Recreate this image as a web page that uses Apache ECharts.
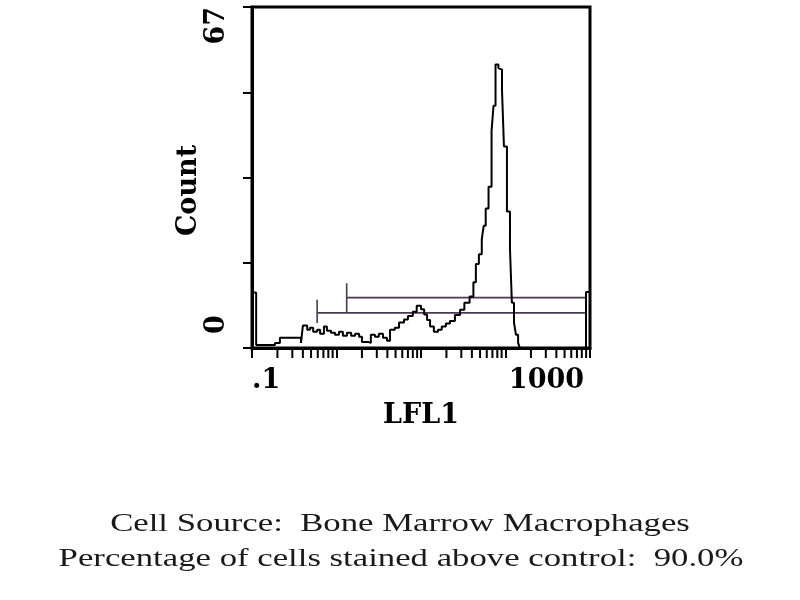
<!DOCTYPE html>
<html><head><meta charset="utf-8">
<script src="https://cdn.jsdelivr.net/npm/echarts@6/dist/echarts.min.js"></script>
<style>html,body{margin:0;padding:0;background:#fff}#c{width:800px;height:600px}</style>
</head><body><div id="c"></div>
<script>
// LFL1 channel (bin left edge, log scale) and cell counts
const lfl1Values = [0.1, 0.112, 0.187, 0.214, 0.38, 0.40, 0.45, 0.485, 0.53, 0.59, 0.64, 0.71, 0.77, 0.86, 0.96, 1.07, 1.19, 1.33, 1.49, 1.66, 1.85, 2.0, 2.35, 2.55, 2.85, 3.17, 3.55, 3.96, 4.3, 4.9, 5.5, 6.3, 7.0, 8.0, 8.9, 10.0, 10.9, 11.8, 12.8, 14.2, 15.9, 17.6, 19.7, 22.0, 25.2, 29.0, 32.6, 37.6, 41.7, 44.6, 48.4, 52.4, 55.2, 58.3, 63.0, 68.4, 72.1, 76.2, 82.5, 86.1, 90.9, 95.9, 104, 113, 119, 126, 133, 141, 148, 897, 1000];
const cellCounts = [10.9, 0.6, 1.0, 2.0, 1.0, 4.4, 3.6, 4.0, 3.2, 3.6, 2.8, 4.2, 3.4, 3.0, 2.6, 3.2, 2.4, 3.0, 2.4, 2.8, 2.2, 1.2, 1.0, 2.6, 2.2, 2.8, 2.0, 1.4, 3.6, 4.0, 5.0, 5.6, 6.3, 7.1, 8.3, 7.6, 6.6, 5.5, 4.2, 3.2, 3.6, 4.2, 4.8, 5.3, 6.5, 7.5, 8.9, 10.1, 12.9, 16.5, 18.4, 21.4, 24.0, 27.4, 31.7, 42.6, 47.6, 55.7, 55.0, 54.7, 50.7, 39.6, 26.8, 19.4, 8.9, 5.0, 2.6, 1.0, 0, 11, 11];

// gate markers
const gate1Range = [0.59, 880];
const gate1Level = 6.9;
const gate1Tick = [4.9, 9.5];
const gate2Range = [1.32, 880];
const gate2Level = 9.9;
const gate2Tick = [6.9, 12.7];

// axes
const xRange = [0.1, 1000];
const yRange = [0, 67];
const yTickLabels = ['0', '67'];
const xTickLabels = ['.1', '1000'];
const minorTickValues = [0.2,0.3,0.4,0.5,0.6,0.7,0.8,0.9, 2,3,4,5,6,7,8,9, 20,30,40,50,60,70,80,90, 200,300,400,500,600,700,800,900];

const captionLines = ['Cell Source:  Bone Marrow Macrophages', 'Percentage of cells stained above control:  90.0%'];

const axisFont = {fontFamily: 'DejaVu Serif', fontWeight: 'bold', fontSize: 27, color: '#000'};
const gateColor = '#4a3a50';

const chart = echarts.init(document.getElementById('c'), null, {renderer: 'canvas'});
const histData = lfl1Values.map((v, i) => [v, cellCounts[i]]);
function seg(a, b) { return {type: 'line', data: [a, b], symbol: 'none', silent: true, lineStyle: {color: gateColor, width: 1.6}, z: 3}; }

chart.setOption({
  animation: false,
  backgroundColor: '#fff',
  grid: {left: 252, top: 7, right: 210, bottom: 252, show: true, borderColor: '#000', borderWidth: 3, backgroundColor: 'transparent', z: 10},
  xAxis: {
    type: 'log', logBase: 10, min: xRange[0], max: xRange[1],
    axisLine: {show: true, lineStyle: {color: '#000', width: 3}},
    axisTick: {show: true, length: 10, inside: false, lineStyle: {color: '#000', width: 2}},
    splitLine: {show: false},
    axisLabel: Object.assign({
      margin: 19,
      alignMinLabel: 'left', alignMaxLabel: 'right',
      showMinLabel: true, showMaxLabel: true,
      formatter: function (v) {
        if (Math.abs(v - xRange[0]) < 1e-9) return xTickLabels[0];
        if (Math.abs(v - xRange[1]) < 1e-6) return '{r|' + xTickLabels[1] + '}';
        return '';
      },
      rich: {r: Object.assign({padding: [0, 6, 0, 0]}, axisFont)}
    }, axisFont),
    name: 'LFL1', nameLocation: 'middle', nameGap: 54,
    nameTextStyle: axisFont
  },
  yAxis: {
    type: 'value', min: yRange[0], max: yRange[1], interval: 16.75,
    axisLine: {show: true, lineStyle: {color: '#000', width: 3}},
    axisTick: {show: true, length: 9, inside: false, lineStyle: {color: '#000', width: 2}},
    splitLine: {show: false},
    axisLabel: Object.assign({
      rotate: 90, margin: 22,
      alignMinLabel: 'left', alignMaxLabel: 'right',
      padding: [0, 0, 0, 14],
      formatter: function (v) {
        if (v === yRange[0]) return yTickLabels[0];
        if (Math.abs(v - yRange[1]) < 1e-9) return yTickLabels[1];
        return '';
      }
    }, axisFont),
    name: 'Count', nameLocation: 'middle', nameGap: 50, nameRotate: 90,
    nameTextStyle: Object.assign({padding: [0, 26, 0, 0]}, axisFont)
  },
  series: [
    {type: 'line', step: 'end', data: histData, symbol: 'none', silent: true,
     lineStyle: {color: '#000', width: 2}, z: 4},
    seg([gate1Range[0], gate1Level], [gate1Range[1], gate1Level]),
    seg([gate1Range[0], gate1Tick[0]], [gate1Range[0], gate1Tick[1]]),
    seg([gate2Range[0], gate2Level], [gate2Range[1], gate2Level]),
    seg([gate2Range[0], gate2Tick[0]], [gate2Range[0], gate2Tick[1]]),
    {type: 'custom', silent: true, clip: false, z: 5,
     data: minorTickValues.map(v => [v, 0]),
     renderItem: function (params, api) {
       const p = api.coord([api.value(0), 0]);
       return {type: 'line', shape: {x1: p[0], y1: p[1], x2: p[0], y2: p[1] + 10},
               style: {stroke: '#000', lineWidth: 2}};
     }}
  ],
  graphic: [
    {type: 'text', x: 400, y: 524, scaleX: 1.336, silent: true,
     style: {text: captionLines[0], fontFamily: 'Liberation Serif', fontSize: 26, fill: '#1a1a1a', textAlign: 'center', textVerticalAlign: 'middle'}},
    {type: 'text', x: 401, y: 559, scaleX: 1.336, silent: true,
     style: {text: captionLines[1], fontFamily: 'Liberation Serif', fontSize: 26, fill: '#1a1a1a', textAlign: 'center', textVerticalAlign: 'middle'}}
  ]
});
</script></body></html>
